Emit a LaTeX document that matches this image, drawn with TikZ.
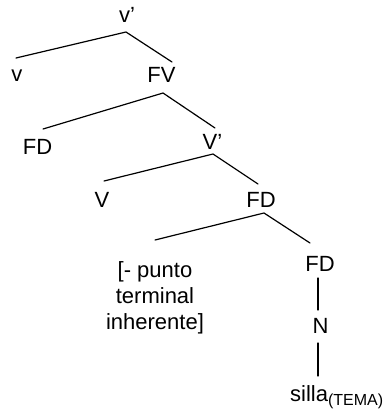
\documentclass[tikz,border=0pt]{standalone}
\usepackage{fontspec}
\setmainfont{Liberation Sans}
\begin{document}
\begin{tikzpicture}[x=1pt,y=-1pt,
  lbl/.style={inner sep=0pt, anchor=base, font=\fontsize{22}{26}\selectfont},
  edge/.style={line width=1.2pt, line cap=round, line join=miter}]
\useasboundingbox (0,0) rectangle (385,410);
% labels
\node[lbl] (vp) at (127,22) {v’};
\node[lbl] (v) at (17,81.5) {v};
\node[lbl] (fv) at (161.5,82) {FV};
\node[lbl] (fd1) at (37.5,154) {FD};
\node[lbl] (Vp) at (212.5,149) {V’};
\node[lbl] (V) at (102,207) {V};
\node[lbl] (fd2) at (261,207) {FD};
\node[lbl, anchor=north, align=center] (feat) at (155,261.5) {[- punto\\terminal\\inherente]};
\node[lbl] (fd3) at (320,271) {FD};
\node[lbl] (n) at (320.5,333) {N};
\node[lbl, anchor=base west] (silla) at (290,401) {silla\raisebox{-4pt}{\fontsize{16}{16}\selectfont(TEMA)}};
% branch points
\coordinate (a1) at (126,32);  \coordinate (a1l) at (16,58);   \coordinate (a1r) at (172,62);
\coordinate (a2) at (163,93);  \coordinate (a2l) at (43,129);  \coordinate (a2r) at (215,128);
\coordinate (a3) at (213,154); \coordinate (a3l) at (104,181); \coordinate (a3r) at (258,184);
\coordinate (a4) at (264,213); \coordinate (a4l) at (155,240); \coordinate (a4r) at (310,243);
\coordinate (b1) at (318,278); \coordinate (b2) at (318,310);
\coordinate (c1) at (318,343); \coordinate (c2) at (318,376);
% connectors
\draw[edge] (a1l) -- (a1) -- (a1r);
\draw[edge] (a2l) -- (a2) -- (a2r);
\draw[edge] (a3l) -- (a3) -- (a3r);
\draw[edge] (a4l) -- (a4) -- (a4r);
\draw[edge] (b1) -- (b2);
\draw[edge] (c1) -- (c2);
\end{tikzpicture}
\end{document}
